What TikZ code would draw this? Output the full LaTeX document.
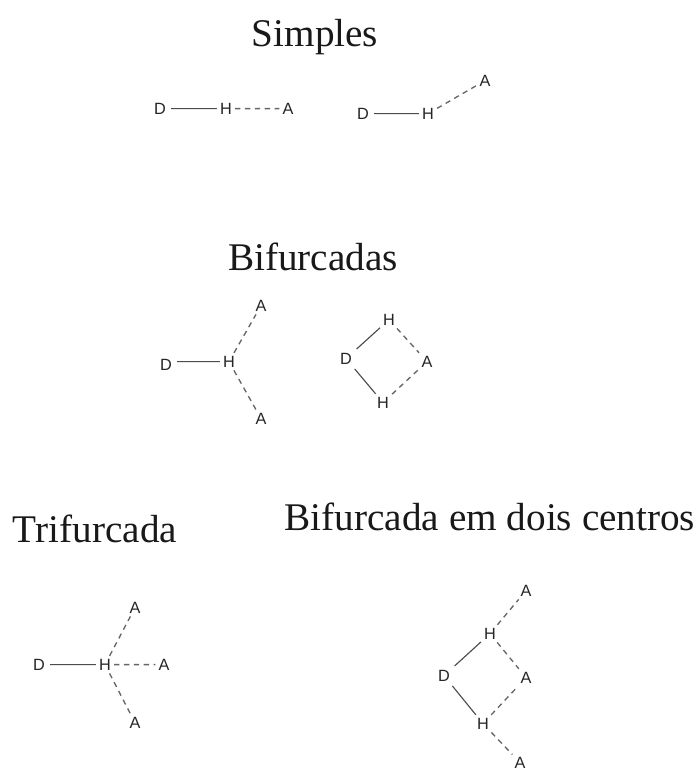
\documentclass[tikz,border=0pt]{standalone}
\usepackage{fontspec}
\setmainfont{Liberation Serif}
\setsansfont{Liberation Sans}
\tikzset{
  atom/.style={font=\sffamily\fontsize{12.2}{14}\selectfont,inner sep=2.2pt,text=black!85},
  ttl/.style={font=\fontsize{29.4}{33}\selectfont,inner sep=0pt,anchor=base,text=black!90},
  cov/.style={draw=black!70,line width=0.85pt,shorten <=1.5pt},
  hb/.style={draw=black!60,line width=1pt,dash pattern=on 4pt off 3.4pt}
}
\begin{document}
\begin{tikzpicture}[x=1pt,y=1pt,scale=0.75]
\useasboundingbox (0,0) rectangle (698,-769);
\path[fill=white] (0,0) rectangle (698,-769);
\node[ttl] (t1) at (315,-46) {Simples};
\node[ttl] (t2) at (313,-270) {Bifurcadas};
\node[ttl] (t3) at (95,-542) {Trifurcada};
\node[ttl] (t4) at (490,-530) {Bifurcada em dois centros};
\def\A#1#2#3#4{\node[atom] (#1) at (#2,-#3-0.6) {#4};}
\A{a1}{160}{108}{D}\A{a2}{226}{108}{H}\A{a3}{288}{108}{A}
\draw[cov] (a1)--(a2); \draw[hb] (a2)--(a3);
\A{b1}{363}{113}{D}\A{b2}{428}{113}{H}\A{b3}{485}{80}{A}
\draw[cov] (b1)--(b2); \draw[hb] (b2)--(b3);
\A{c1}{166}{364}{D}\A{c2}{229}{361}{H}\A{c3}{261}{305}{A}\A{c4}{261}{418}{A}
\draw[cov] (c1.east |- c2)--(c2); \draw[hb] (c2)--(c3); \draw[hb] (c2)--(c4);
\A{d1}{346}{358}{D}\A{d2}{389}{319}{H}\A{d3}{383}{402}{H}\A{d4}{427}{361}{A}
\draw[cov] (d1)--(d2); \draw[cov] (d1)--(d3); \draw[hb] (d2)--(d4); \draw[hb] (d3)--(d4);
\A{e1}{39}{664}{D}\A{e2}{105}{664}{H}\A{e3}{135}{607}{A}\A{e4}{164}{664}{A}\A{e5}{135}{722}{A}
\draw[cov] (e1)--(e2); \draw[hb] (e2)--(e3); \draw[hb] (e2)--(e4); \draw[hb] (e2)--(e5);
\A{f1}{444}{675}{D}\A{f2}{490}{633}{H}\A{f3}{483}{723}{H}\A{f4}{526}{590}{A}\A{f5}{526}{677}{A}
\node[atom,inner sep=0pt] (f6) at (520,-762.5) {A};
\draw[cov] (f1)--(f2); \draw[cov] (f1)--(f3); \draw[hb] (f2)--(f4); \draw[hb] (f2)--(f5); \draw[hb] (f3)--(f5); \draw[hb,shorten >=2.2pt] (f3)--(f6);
\end{tikzpicture}
\end{document}
